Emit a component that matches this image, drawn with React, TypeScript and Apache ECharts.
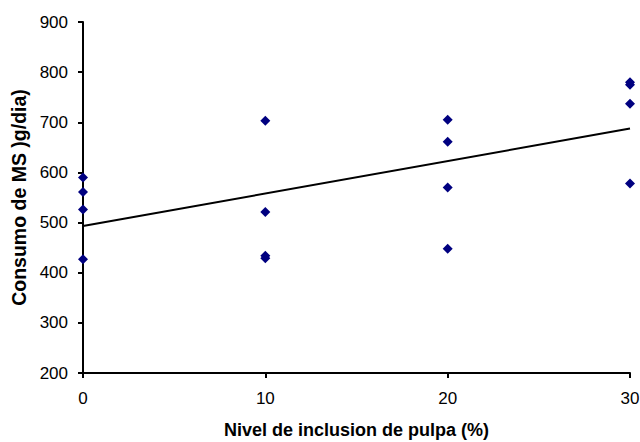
import React, { useEffect, useRef } from "react";
import * as echarts from "echarts";

const xLevels = [0, 10, 20, 30];
const valuesAt0 = [590, 561, 526, 427];
const valuesAt10 = [703, 521, 434, 429];
const valuesAt20 = [705, 661, 570, 448];
const valuesAt30 = [780, 775, 737, 578];
const xTickValues = [0, 10, 20, 30];
const yTickValues = [200, 300, 400, 500, 600, 700, 800, 900];
const xTitle = "Nivel de inclusion de pulpa (%)";
const yTitle = "Consumo de MS )g/dia)";

const groups = [valuesAt0, valuesAt10, valuesAt20, valuesAt30];

function buildPoints(): number[][] {
  const pts: number[][] = [];
  groups.forEach((vals, i) => {
    vals.forEach((v) => pts.push([xLevels[i], v]));
  });
  return pts;
}

function regression(pts: number[][]) {
  const n = pts.length;
  let sx = 0, sy = 0, sxx = 0, sxy = 0;
  pts.forEach(([x, y]) => {
    sx += x; sy += y; sxx += x * x; sxy += x * y;
  });
  const slope = (n * sxy - sx * sy) / (n * sxx - sx * sx);
  const intercept = (sy - slope * sx) / n;
  return { slope, intercept };
}

const FONT = "Arial, 'Liberation Sans', sans-serif";

export default function App() {
  const ref = useRef<HTMLDivElement>(null);
  useEffect(() => {
    if (!ref.current) return;
    const chart = echarts.init(ref.current, undefined, { renderer: "svg" });
    const pts = buildPoints();
    const { slope, intercept } = regression(pts);
    const xMin = xTickValues[0];
    const xMax = xTickValues[xTickValues.length - 1];
    const trend = [
      [xMin, intercept + slope * xMin],
      [xMax, intercept + slope * xMax],
    ];
    chart.setOption({
      animation: false,
      backgroundColor: "#ffffff",
      grid: {
        left: 83,
        right: 10,
        top: 22,
        bottom: 69,
        containLabel: false,
        outerBoundsMode: "none",
      },
      xAxis: {
        type: "value",
        min: xMin,
        max: xMax,
        interval: 10,
        name: xTitle,
        nameLocation: "middle",
        nameGap: 47,
        nameTextStyle: { fontFamily: FONT, fontSize: 18, fontWeight: "bold", color: "#000", lineHeight: 20 },
        axisLine: { show: true, onZero: false, lineStyle: { color: "#000000", width: 2, opacity: 1 } },
        axisTick: { show: true, length: 5, lineStyle: { color: "#000000", width: 2, opacity: 1 } },
        axisLabel: { fontFamily: FONT, fontSize: 17, color: "#000", margin: 17 },
        splitLine: { show: false },
      },
      yAxis: {
        type: "value",
        min: yTickValues[0],
        max: yTickValues[yTickValues.length - 1],
        interval: 100,
        name: yTitle,
        nameLocation: "middle",
        nameGap: 54,
        nameRotate: 90,
        nameTextStyle: { fontFamily: FONT, fontSize: 19.5, fontWeight: "bold", color: "#000" },
        axisLine: { show: true, lineStyle: { color: "#000000", width: 2, opacity: 1 } },
        axisTick: { show: true, length: 5, lineStyle: { color: "#000000", width: 2, opacity: 1 } },
        axisLabel: { fontFamily: FONT, fontSize: 17, color: "#000", margin: 15 },
        splitLine: { show: false },
      },
      series: [
        {
          type: "line",
          data: trend,
          symbol: "none",
          lineStyle: { color: "#000", width: 2 },
          z: 2,
        },
        {
          type: "scatter",
          data: pts,
          symbol: "diamond",
          symbolSize: 10,
          itemStyle: { color: "#000080", opacity: 1 },
          z: 3,
        },
      ],
    });
    return () => chart.dispose();
  }, []);
  return (
    <div
      ref={ref}
      style={{ position: "fixed", left: 0, top: 0, width: 640, height: 442 }}
    />
  );
}
